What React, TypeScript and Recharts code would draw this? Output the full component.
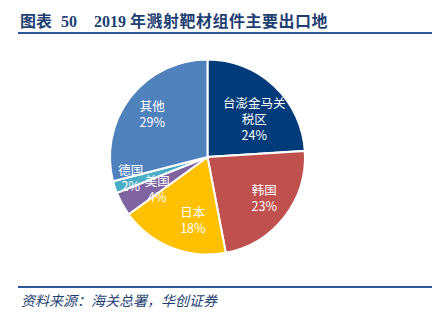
import React from 'react';
import { PieChart, Pie, Cell } from 'recharts';

const categories = ['台澎金马关税区', '韩国', '日本', '美国', '德国', '其他'];
const shares = [24, 23, 18, 4, 2, 29];

const colors = ['#023B7A', '#C0504D', '#FFC000', '#8064A2', '#4BACC6', '#4F81BD'];
const labelRadius = [0.61, 0.71, 0.7, 0.6, 0.86, 0.73];
const labelShift: [number, number][] = [
  [6, 4],
  [2, -2],
  [10.5, -1.5],
  [1, 3],
  [3, -6],
  [1, 0],
];

const data = categories.map((name, i) => ({ name, value: shares[i] }));

const RAD = Math.PI / 180;

const renderLabel = (props: any) => {
  const { cx, cy, midAngle, outerRadius, index, name, value } = props;
  const r = outerRadius * labelRadius[index];
  const x = cx + r * Math.cos(-midAngle * RAD) + labelShift[index][0];
  const y = cy + r * Math.sin(-midAngle * RAD) + labelShift[index][1];
  const lines: string[] = [];
  const n = String(name);
  if (n.length > 5) {
    lines.push(n.slice(0, 5), n.slice(5));
  } else {
    lines.push(n);
  }
  lines.push(`${value}%`);
  const lh = 16;
  const startY = y - ((lines.length - 1) * lh) / 2;
  return (
    <text
      key={`lbl-${index}`}
      x={x}
      y={startY}
      fill="#FFFFFF"
      fontSize={12.5}
      fontFamily="'Noto Sans CJK SC', 'Noto Sans', sans-serif"
      textAnchor="middle"
      dominantBaseline="central"
    >
      {lines.map((l, k) => (
        <tspan key={k} x={x} dy={k === 0 ? 0 : lh}>
          {l}
        </tspan>
      ))}
    </text>
  );
};

export default function App() {
  return (
    <div
      style={{
        position: 'fixed',
        left: 0,
        top: 0,
        width: 441,
        height: 328,
        background: '#FFFFFF',
        overflow: 'hidden',
      }}
    >
      <div
        style={{
          position: 'absolute',
          left: 20,
          top: 10,
          fontSize: 16,
          fontWeight: 'bold',
          color: '#1F3F73',
          fontFamily: "'Noto Sans CJK SC', 'DejaVu Serif', serif",
          whiteSpace: 'nowrap',
          lineHeight: '20px',
        }}
      >
        <span>图表</span>
        <span style={{ fontFamily: "'Liberation Serif', serif", marginLeft: 9 }}>50</span>
        <span style={{ display: 'inline-block', width: 17 }} />
        <span style={{ fontFamily: "'Liberation Serif', serif" }}>2019 </span>
        <span style={{ letterSpacing: 0.5 }}>年溅射靶材组件主要出口地</span>
      </div>
      <div
        style={{
          position: 'absolute',
          left: 18,
          top: 32,
          width: 414,
          height: 2,
          background: '#2E5597',
        }}
      />
      <div style={{ position: 'absolute', left: 0, top: 0 }}>
        <PieChart width={441} height={328} margin={{ top: 0, right: 0, bottom: 0, left: 0 }}>
          <Pie
            data={data}
            dataKey="value"
            nameKey="name"
            cx={207.5}
            cy={157}
            outerRadius={97.5}
            startAngle={90}
            endAngle={-270}
            stroke="#FFFFFF"
            strokeWidth={2}
            isAnimationActive={false}
            labelLine={false}
            label={renderLabel}
          >
            {data.map((d, i) => (
              <Cell key={d.name} fill={colors[i]} />
            ))}
          </Pie>
        </PieChart>
      </div>
      <div
        style={{
          position: 'absolute',
          left: 18,
          top: 286,
          width: 414,
          height: 2,
          background: '#2E5597',
        }}
      />
      <div
        style={{
          position: 'absolute',
          left: 21,
          top: 291,
          fontSize: 14,
          fontStyle: 'italic',
          color: '#1F3F73',
          fontFamily: "'Noto Sans CJK SC', sans-serif",
          whiteSpace: 'nowrap',
          lineHeight: '18px',
        }}
      >
        资料来源：海关总署，华创证券
      </div>
    </div>
  );
}
